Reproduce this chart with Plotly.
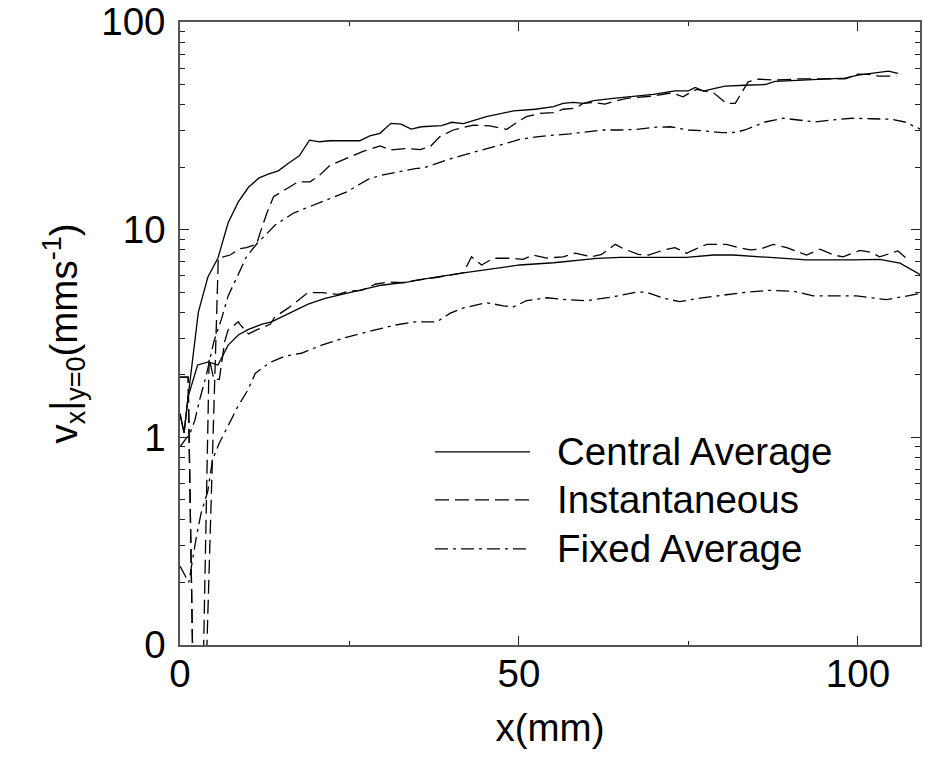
import plotly.graph_objects as go

# ---------------- data ----------------
# Central Average, upper group
ca_hi_x = [0, 0.6, 1.2, 2.7, 4.1, 5.6, 7.1, 8.6, 10.1, 11.6, 13.0, 14.5, 16.0, 17.6, 19.1,
           20.6, 22.1, 23.6, 25.1, 26.5, 28.0, 29.5, 31.1, 32.6, 34.1, 35.6, 38.6, 40.1, 41.8,
           45.2, 47.7, 49.2, 52.4, 55.1, 56.5, 58.0, 59.5, 61.0, 63.9, 66.9, 69.8, 73.0, 75.0,
           76.0, 77.2, 78.9, 80.4, 83.3, 86.3, 87.8, 91.2, 94.6, 98.1, 100.0, 104.5, 105.9]
ca_hi_y = [1.3, 1.05, 1.57, 4.0, 5.9, 7.3, 10.8, 13.6, 16.0, 17.7, 18.5, 19.2, 20.9, 22.7, 27.0,
           26.5, 26.8, 26.9, 26.8, 26.8, 28.3, 29.1, 32.5, 32.2, 30.5, 31.3, 31.7, 32.9, 32.4,
           35.0, 36.3, 37.3, 38.0, 39.1, 40.6, 41.0, 40.6, 41.8, 42.9, 44.0, 44.8, 46.6, 46.6,
           48.4, 46.5, 47.9, 49.1, 49.6, 50.0, 51.8, 52.5, 52.8, 53.7, 55.5, 58.0, 56.6]

# Central Average, lower group
ca_lo_x = [0, 0.6, 1.2, 2.6, 4.2, 5.6, 7.1, 8.6, 10.1, 12.0, 13.5, 16.0, 18.9, 21.4, 23.8,
           26.8, 29.7, 33.7, 36.1, 41.8, 46.0, 50.1, 55.1, 61.5, 64.9, 74.7, 78.7, 81.6, 87.0,
           92.4, 99.3, 103.2, 106.2, 109.5]
ca_lo_y = [1.3, 1.05, 1.57, 2.23, 2.31, 2.23, 2.78, 3.11, 3.31, 3.5, 3.6, 3.95, 4.38, 4.67, 4.88,
           5.15, 5.4, 5.6, 5.8, 6.2, 6.5, 6.76, 6.93, 7.28, 7.35, 7.35, 7.55, 7.55, 7.35,
           7.15, 7.15, 7.2, 6.9, 6.0]

# Instantaneous, upper group
in_hi_x = [0, 1.2, 2.6, 5.65, 7.4, 8.85, 9.8, 11.3, 11.8, 12.8, 13.8, 14.7, 17.4, 19.2, 20.6,
           22.1, 24.6, 27.0, 29.5, 31.0, 33.4, 35.4, 36.9, 38.3, 40.3, 43.3, 45.7, 48.2, 49.7,
           51.1, 53.1, 55.1, 56.5, 58.3, 59.5, 61.0, 62.7, 63.9, 65.9, 69.8, 72.5, 74.2, 75.2,
           76.2, 78.7, 80.6, 81.9, 83.1, 83.8, 85.3, 87.8, 91.2, 94.6, 98.1, 100.0, 101.5, 103.0,
           105.7]
in_hi_y = [1.95, 1.95, 0.003, 7.3, 7.55, 8.1, 8.2, 8.5, 9.6, 12.0, 14.4, 15.0, 17.0, 17.0, 18.3,
           20.4, 22.0, 23.8, 25.3, 24.2, 24.6, 24.3, 25.1, 28.0, 30.2, 31.9, 31.6, 30.4, 32.9,
           35.0, 36.3, 36.6, 38.0, 38.5, 40.6, 41.0, 40.2, 41.4, 42.9, 44.0, 45.6, 43.6, 45.6,
           47.4, 45.6, 40.6, 40.6, 47.4, 51.5, 53.1, 52.5, 53.2, 53.2, 53.2, 56.1, 56.0, 54.9,
           54.9]

# Instantaneous, lower group
in_lo_x = [0, 1.2, 2.6, 4.3, 5.0, 5.8, 6.6, 7.1, 8.6, 8.85, 10.1, 11.3, 13.3, 14.0, 16.0,
           17.7, 18.9, 20.9, 23.3, 24.8, 26.8, 28.8, 30.7, 33.2, 34.7, 38.0, 41.8, 43.0, 44.5,
           46.2, 48.2, 50.6, 52.1, 54.1, 56.5, 58.3, 60.7, 62.2, 64.2, 65.4, 67.6, 69.1, 71.3,
           73.0, 74.7, 76.2, 77.7, 80.6, 82.3, 84.1, 85.5, 87.5, 89.5, 92.4, 94.4, 96.4, 97.8,
           100.3, 101.8, 103.2, 105.9, 107.4]
in_lo_y = [1.95, 1.95, 0.003, 2.4, 1.9, 1.9, 2.9, 3.29, 3.6, 3.5, 3.15, 3.29, 3.5, 3.8, 4.2,
           4.67, 4.98, 4.98, 4.88, 5.05, 5.1, 5.46, 5.6, 5.55, 5.7, 5.9, 6.2, 7.4, 6.76,
           7.28, 7.3, 7.2, 7.55, 7.3, 7.4, 7.7, 7.4, 7.6, 8.5, 8.1, 7.6, 7.55, 7.97,
           8.2, 7.7, 8.1, 8.5, 8.5, 8.2, 8.0, 8.05, 8.5, 8.2, 7.55, 8.05, 7.55, 7.4,
           7.95, 7.8, 7.4, 7.9, 7.15]

# Fixed Average, upper group
fx_hi_x = [0, 1.5, 2.2, 2.9, 3.9, 5.0, 6.1, 7.1, 8.4, 9.8, 11.4, 12.8, 14.0, 16.7, 20.4,
           22.4, 24.6, 26.3, 27.8, 29.7, 32.2, 34.7, 36.1, 39.6, 42.3, 45.2, 47.7, 50.1, 52.6,
           55.1, 57.5, 60.0, 62.4, 64.9, 67.4, 69.8, 72.3, 75.0, 77.4, 79.9, 81.9, 83.3, 86.3,
           89.0, 91.2, 93.7, 96.1, 99.1, 102.0, 105.0, 106.9, 109.5]
fx_hi_y = [0.9, 1.05, 1.21, 1.52, 2.0, 2.9, 3.7, 4.8, 5.9, 7.4, 8.6, 9.6, 10.5, 12.0, 13.4,
           14.3, 15.2, 16.4, 17.5, 18.3, 19.0, 19.7, 19.9, 21.8, 23.1, 24.4, 25.8, 27.2, 28.0,
           28.5, 28.9, 29.6, 30.2, 30.2, 30.4, 31.1, 31.3, 30.2, 29.9, 29.3, 29.4, 30.2, 33.0,
           34.4, 33.7, 33.0, 33.7, 34.4, 34.2, 34.0, 33.0, 30.2]

# Fixed Average, lower group
fx_lo_x = [0, 1.3, 2.4, 3.1, 4.1, 4.8, 5.8, 7.3, 8.5, 10.0, 11.1, 12.4, 13.5, 15.5, 17.9,
           20.9, 24.8, 28.8, 31.7, 34.7, 37.9, 39.8, 41.8, 45.2, 47.7, 49.2, 51.1, 54.1, 57.0,
           60.0, 63.9, 67.4, 68.8, 71.3, 73.7, 76.2, 79.6, 83.6, 87.0, 90.5, 93.4, 96.9, 99.8,
           104.2, 107.2, 109.5]
fx_lo_y = [0.24, 0.2, 0.33, 0.43, 0.55, 0.78, 0.94, 1.17, 1.40, 1.69, 2.03, 2.19, 2.31, 2.46, 2.54,
           2.78, 3.05, 3.29, 3.47, 3.6, 3.6, 3.95, 4.2, 4.45, 4.3, 4.25, 4.55, 4.7, 4.6,
           4.55, 4.75, 5.0, 5.0, 4.68, 4.5, 4.66, 4.8, 5.0, 5.1, 5.05, 4.8, 4.78, 4.8,
           4.6, 4.78, 4.95]

legend_names = ["Central Average", "Instantaneous", "Fixed Average"]
x_tick_vals = [0, 50, 100]
x_tick_text = ["0", "50", "100"]
y_tick_vals = [0.1, 1, 10, 100]
y_tick_text = ["0", "1", "10", "100"]

# ---------------- styling ----------------
FONT = "Liberation Sans, Arial, Helvetica, sans-serif"
FS = 38.5
DASH = "14px,6px"
DASHDOT = "13px,5px,3px,5px"
styles = {"Central Average": "solid", "Instantaneous": DASH, "Fixed Average": DASHDOT}

fig = go.Figure()
series = [
    (ca_hi_x, ca_hi_y, "Central Average"),
    (ca_lo_x, ca_lo_y, "Central Average"),
    (in_hi_x, in_hi_y, "Instantaneous"),
    (in_lo_x, in_lo_y, "Instantaneous"),
    (fx_hi_x, fx_hi_y, "Fixed Average"),
    (fx_lo_x, fx_lo_y, "Fixed Average"),
]
for xs, ys, nm in series:
    fig.add_trace(go.Scatter(x=xs, y=ys, mode="lines", name=nm, showlegend=False,
                             line=dict(color="black", width=1.3, dash=styles[nm])))

# in-plot legend (drawn like the reference: long sample lines + text)
leg_y = [0.310, 0.2329, 0.1542]
for nm, yy in zip(legend_names, leg_y):
    fig.add_shape(type="line", xref="paper", yref="paper", x0=0.3446, x1=0.473, y0=yy, y1=yy,
                  line=dict(color="black", width=1.3, dash=styles[nm]))
    fig.add_annotation(xref="paper", yref="paper", x=0.5068, y=yy, text=nm, showarrow=False,
                       xanchor="left", yanchor="middle",
                       font=dict(family=FONT, size=FS, color="black"))

axis_common = dict(showline=True, linecolor="#555", linewidth=1.5, mirror="ticks",
                   ticks="inside", tickcolor="#222", tickwidth=1.2, showgrid=False,
                   zeroline=False, automargin=False,
                   tickfont=dict(family=FONT, size=FS, color="black"))

fig.update_xaxes(range=[0, 109.15], tickmode="array", tickvals=x_tick_vals, ticktext=x_tick_text,
                 ticklen=9, ticklabelstandoff=-6,
                 minor=dict(ticks="inside", dtick=25, tick0=0, ticklen=4, tickcolor="#222", tickwidth=1.2),
                 title=dict(text="x(mm)", font=dict(family=FONT, size=FS, color="black"), standoff=20),
                 **axis_common)
fig.update_yaxes(type="log", range=[-1, 2], tickmode="array", tickvals=y_tick_vals, ticktext=y_tick_text,
                 ticklen=9, ticklabelstandoff=5,
                 minor=dict(ticks="inside", dtick="D1", ticklen=5, tickcolor="#222", tickwidth=1.2),
                 title=dict(text="v<sub>x</sub>|<sub>y=0</sub>(mms<sup>-1</sup>)",
                            font=dict(family=FONT, size=FS, color="black"), standoff=12),
                 **axis_common)

fig.update_layout(width=925, height=759, margin=dict(l=180, r=5, t=22, b=114),
                  paper_bgcolor="white", plot_bgcolor="white", showlegend=False)

fig.write_html("out.html", config={"displayModeBar": False},
               post_script="document.body.style.margin='0px';")
